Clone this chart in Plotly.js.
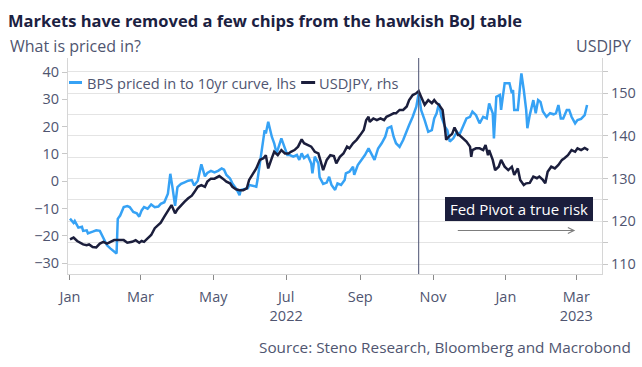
<!DOCTYPE html>
<html>
<head>
<meta charset="utf-8">
<script src="https://cdn.plot.ly/plotly-3.0.1.min.js"></script>
<style>html,body{margin:0;padding:0;background:#fff;}#chart{width:642px;height:367px;}</style>
</head>
<body>
<div id="chart"></div>
<script>
const bpsDates = ['2022-01-01','2022-01-04','2022-01-05','2022-01-08','2022-01-11','2022-01-12','2022-01-15','2022-01-16','2022-01-20','2022-01-23','2022-01-26','2022-01-29','2022-02-01','2022-02-04','2022-02-07','2022-02-09','2022-02-10','2022-02-12','2022-02-15','2022-02-18','2022-02-20','2022-02-23','2022-02-26','2022-02-28','2022-03-02','2022-03-04','2022-03-07','2022-03-10','2022-03-13','2022-03-16','2022-03-18','2022-03-21','2022-03-24','2022-03-26','2022-03-28','2022-03-30','2022-04-01','2022-04-04','2022-04-07','2022-04-10','2022-04-13','2022-04-15','2022-04-18','2022-04-21','2022-04-24','2022-04-26','2022-04-29','2022-05-02','2022-05-05','2022-05-08','2022-05-10','2022-05-12','2022-05-15','2022-05-17','2022-05-20','2022-05-23','2022-05-24','2022-05-27','2022-05-30','2022-05-31','2022-06-03','2022-06-06','2022-06-07','2022-06-10','2022-06-13','2022-06-14','2022-06-16','2022-06-19','2022-06-21','2022-06-23','2022-06-24','2022-06-27','2022-06-30','2022-07-02','2022-07-04','2022-07-07','2022-07-10','2022-07-12','2022-07-14','2022-07-16','2022-07-19','2022-07-22','2022-07-23','2022-07-25','2022-07-28','2022-07-29','2022-08-01','2022-08-04','2022-08-06','2022-08-08','2022-08-11','2022-08-13','2022-08-16','2022-08-19','2022-08-20','2022-08-23','2022-08-26','2022-08-27','2022-08-30','2022-09-02','2022-09-05','2022-09-08','2022-09-10','2022-09-13','2022-09-16','2022-09-19','2022-09-22','2022-09-24','2022-09-27','2022-09-29','2022-10-01','2022-10-04','2022-10-07','2022-10-10','2022-10-12','2022-10-15','2022-10-18','2022-10-20','2022-10-22','2022-10-25','2022-10-28','2022-10-31','2022-11-02','2022-11-04','2022-11-06','2022-11-08','2022-11-11','2022-11-13','2022-11-15','2022-11-18','2022-11-21','2022-11-23','2022-11-26','2022-11-29','2022-12-02','2022-12-04','2022-12-07','2022-12-10','2022-12-13','2022-12-16','2022-12-18','2022-12-21','2022-12-22','2022-12-24','2022-12-27','2022-12-28','2022-12-31','2023-01-04','2023-01-06','2023-01-07','2023-01-08','2023-01-11','2023-01-13','2023-01-14','2023-01-16','2023-01-18','2023-01-19','2023-01-21','2023-01-24','2023-01-26','2023-01-28','2023-01-30','2023-02-01','2023-02-04','2023-02-07','2023-02-10','2023-02-12','2023-02-14','2023-02-16','2023-02-18','2023-02-21','2023-02-23','2023-02-25','2023-02-28','2023-03-02','2023-03-05','2023-03-08','2023-03-10'];
const bpsValues = [-13.7,-15.3,-14.6,-17.0,-16.7,-18.2,-18.0,-19.1,-18.5,-18.0,-18.2,-21.0,-23.5,-24.7,-25.9,-26.5,-13.8,-12.6,-9.5,-9.1,-9.5,-11.3,-11.8,-13.0,-10.7,-9.5,-10.1,-8.5,-9.5,-9.3,-8.3,-7.7,-4.6,2.7,-2.8,-9.0,-2.2,-1.0,-0.4,0.2,0.4,-1.6,0.2,6.2,1.8,3.0,3.8,3.2,3.8,4.7,4.2,2.3,1.0,-0.8,-2.6,-5.1,-3.2,-3.0,-2.6,-1.4,-1.8,-2.0,0.4,9.0,18.7,17.5,21.8,16.3,13.9,10.2,11.5,15.7,12.0,9.6,9.6,9.0,9.6,7.8,10.2,8.5,9.5,6.5,2.9,9.0,6.5,1.5,-1.0,-0.5,1.6,-1.4,-3.2,-0.8,-1.4,0.4,2.9,3.5,5.3,2.3,5.9,7.8,9.6,12.0,10.2,7.8,12.0,13.9,16.3,19.4,20.0,16.3,13.9,12.6,15.1,18.7,20.6,23.6,27.3,32.2,26.1,22.4,18.1,18.7,23.0,24.9,28.5,23.6,20.0,18.7,14.5,15.7,18.1,16.9,20.0,23.0,23.6,25.5,24.2,21.2,23.6,23.0,28.5,24.9,15.7,30.9,31.6,26.1,35.9,35.9,32.2,33.4,26.1,26.1,35.3,39.5,33.4,26.1,19.4,24.2,29.7,24.9,29.7,29.0,25.5,23.6,24.9,24.5,24.9,27.9,23.0,23.0,26.1,26.1,23.6,21.2,22.4,22.8,24.2,27.9];

const fxDates = ['2022-01-01','2022-01-04','2022-01-07','2022-01-09','2022-01-12','2022-01-15','2022-01-17','2022-01-20','2022-01-23','2022-01-26','2022-01-29','2022-02-01','2022-02-04','2022-02-07','2022-02-11','2022-02-15','2022-02-18','2022-02-22','2022-02-25','2022-02-28','2022-03-02','2022-03-04','2022-03-07','2022-03-10','2022-03-13','2022-03-16','2022-03-18','2022-03-21','2022-03-24','2022-03-27','2022-03-28','2022-03-30','2022-04-01','2022-04-04','2022-04-07','2022-04-10','2022-04-13','2022-04-15','2022-04-18','2022-04-21','2022-04-24','2022-04-26','2022-04-29','2022-05-02','2022-05-05','2022-05-06','2022-05-09','2022-05-12','2022-05-15','2022-05-17','2022-05-20','2022-05-23','2022-05-26','2022-05-29','2022-05-31','2022-06-03','2022-06-06','2022-06-09','2022-06-12','2022-06-14','2022-06-16','2022-06-19','2022-06-21','2022-06-24','2022-06-27','2022-06-30','2022-07-03','2022-07-05','2022-07-08','2022-07-11','2022-07-14','2022-07-16','2022-07-19','2022-07-22','2022-07-25','2022-07-28','2022-07-30','2022-08-01','2022-08-04','2022-08-07','2022-08-10','2022-08-12','2022-08-15','2022-08-18','2022-08-21','2022-08-23','2022-08-26','2022-08-29','2022-09-01','2022-09-04','2022-09-06','2022-09-08','2022-09-09','2022-09-12','2022-09-15','2022-09-18','2022-09-21','2022-09-23','2022-09-26','2022-09-29','2022-10-01','2022-10-04','2022-10-07','2022-10-10','2022-10-12','2022-10-15','2022-10-18','2022-10-20','2022-10-22','2022-10-25','2022-10-28','2022-10-31','2022-11-02','2022-11-04','2022-11-06','2022-11-09','2022-11-11','2022-11-12','2022-11-14','2022-11-17','2022-11-19','2022-11-21','2022-11-22','2022-11-23','2022-11-26','2022-11-29','2022-12-02','2022-12-03','2022-12-04','2022-12-07','2022-12-10','2022-12-13','2022-12-15','2022-12-17','2022-12-18','2022-12-21','2022-12-23','2022-12-26','2022-12-28','2022-12-31','2023-01-03','2023-01-06','2023-01-08','2023-01-11','2023-01-13','2023-01-16','2023-01-18','2023-01-21','2023-01-24','2023-01-27','2023-01-29','2023-02-01','2023-02-03','2023-02-05','2023-02-08','2023-02-11','2023-02-14','2023-02-17','2023-02-19','2023-02-22','2023-02-25','2023-02-28','2023-03-02','2023-03-05','2023-03-08','2023-03-11'];
const fxValues = [115.8,116.2,115.4,115.0,114.6,114.4,114.6,114.0,113.9,114.8,115.2,114.8,115.2,115.6,115.6,115.6,115.0,115.2,115.6,115.0,115.4,115.2,116.0,116.8,118.4,119.1,119.7,121.1,122.4,123.8,123.2,121.9,122.8,123.8,124.6,125.4,126.0,126.8,128.1,128.5,128.1,129.3,130.0,130.0,130.6,130.6,130.0,129.3,128.9,128.1,127.5,127.3,127.3,127.7,129.7,130.9,132.4,134.4,134.8,135.5,132.4,134.8,136.3,135.5,136.7,135.9,135.9,136.3,136.7,137.5,139.2,138.3,137.9,137.5,136.3,135.9,134.0,132.0,134.4,135.5,135.3,133.6,135.1,135.9,137.5,137.1,138.3,139.1,140.2,141.4,143.7,144.5,143.3,144.1,143.7,144.1,143.7,144.5,144.9,145.3,145.3,146.1,146.1,146.9,148.4,149.6,150.0,150.5,149.2,147.3,148.4,147.7,148.4,147.7,147.3,146.1,141.8,139.1,139.8,140.5,142.0,141.0,140.2,140.2,139.5,138.7,137.5,135.1,136.7,137.1,137.1,136.7,137.9,135.5,136.7,134.4,132.0,132.8,134.4,132.8,132.0,132.8,130.9,132.4,129.7,128.5,128.9,129.0,130.5,130.1,130.5,129.7,128.9,131.6,132.8,132.4,133.2,134.4,134.8,135.5,136.7,136.3,137.1,136.7,137.2,136.7];

const leftTicks = [-30,-20,-10,0,10,20,30,40];
const rightTicks = [110,115,120,125,130,135,140,145,150,155];
const rightTickText = ['110','','120','','130','','140','','150',''];
const xTickVals = ['2022-01-01','2022-03-01','2022-05-01','2022-07-01','2022-09-01','2022-11-01','2023-01-01','2023-03-01'];
const xTickText = ['Jan','Mar','May','Jul<br>2022','Sep','Nov','Jan','Mar<br>2023'];
const seriesNames = ['BPS priced in to 10yr curve, lhs','USDJPY, rhs'];
const pivotDate = '2022-10-20';

const FONT = 'Open Sans, Noto Sans, sans-serif';
const TXT = '#4f5570';
const NAVY = '#1b1e3c';
const BLUE = '#36a2f5';

const traces = [
  {x: bpsDates, y: bpsValues, type: 'scatter', mode: 'lines', name: seriesNames[0],
   line: {color: BLUE, width: 2.5}, yaxis: 'y', hoverinfo: 'x+y'},
  {x: fxDates, y: fxValues, type: 'scatter', mode: 'lines', name: seriesNames[1],
   line: {color: NAVY, width: 2.5}, yaxis: 'y2', hoverinfo: 'x+y'}
];

const layout = {
  width: 642, height: 367,
  margin: {l: 68, r: 40, t: 58, b: 93, pad: 0},
  paper_bgcolor: '#ffffff', plot_bgcolor: '#ffffff',
  showlegend: false,
  font: {family: FONT, color: TXT, size: 14},
  title: {text: '<b>Markets have removed a few chips from the hawkish BoJ table</b>',
          font: {family: FONT, size: 16.5, color: '#1b2141'},
          x: 8/642, xanchor: 'left', xref: 'container', y: 1 - 21/367, yanchor: 'middle', yref: 'container'},
  xaxis: {type: 'date', range: ['2021-12-30 08:00', '2023-03-22 12:00'],
          tickvals: xTickVals, ticktext: xTickText, ticks: 'outside', ticklen: 5, tickcolor: '#8a8a8a',
          showline: true, linecolor: '#d6d6d6', linewidth: 1, showgrid: false, zeroline: false,
          tickfont: {size: 14.5, color: TXT}, ticklabelstandoff: 5},
  yaxis: {range: [-34.0, 45.13], tickvals: leftTicks, ticks: 'outside', ticklen: 5, tickcolor: '#c8c8c8',
          showline: true, linecolor: '#d6d6d6', showgrid: false, zeroline: false,
          tickfont: {size: 14.5, color: TXT}},
  yaxis2: {range: [107.66, 158.27], overlaying: 'y', side: 'right', tickvals: rightTicks, ticktext: rightTickText,
           ticks: 'outside', ticklen: 5, tickcolor: '#c8c8c8', showline: true, linecolor: '#d6d6d6',
           showgrid: true, gridcolor: '#e4e4e4', gridwidth: 1, zeroline: false,
           tickfont: {size: 14.5, color: TXT}},
  shapes: [
    {type: 'line', xref: 'x', yref: 'paper', x0: pivotDate, x1: pivotDate, y0: 0, y1: 1,
     line: {color: '#4b5170', width: 1}},
    {type: 'line', xref: 'paper', yref: 'paper', x0: (69-68)/533.7, x1: (82-68)/533.7, y0: (274-82.5)/216, y1: (274-82.5)/216,
     line: {color: BLUE, width: 3}},
    {type: 'line', xref: 'paper', yref: 'paper', x0: (301-68)/533.7, x1: (315-68)/533.7, y0: (274-82.5)/216, y1: (274-82.5)/216,
     line: {color: NAVY, width: 3}}
  ],
  annotations: [
    {text: 'What is priced in?', xref: 'paper', yref: 'paper', x: (8-68)/533.7, y: (274-46)/216,
     xanchor: 'left', yanchor: 'middle', showarrow: false, font: {size: 16, color: TXT}},
    {text: 'USDJPY', xref: 'paper', yref: 'paper', x: (633-68)/533.7, y: (274-46)/216,
     xanchor: 'right', yanchor: 'middle', showarrow: false, font: {size: 16, color: TXT}},
    {text: 'Source: Steno Research, Bloomberg and Macrobond', xref: 'paper', yref: 'paper',
     x: (633-68)/533.7, y: (274-347)/216, xanchor: 'right', yanchor: 'middle', showarrow: false,
     font: {size: 15.3, color: TXT}},
    {text: seriesNames[0], xref: 'paper', yref: 'paper', x: (85-68)/533.7, y: (274-83)/216,
     xanchor: 'left', yanchor: 'middle', showarrow: false, font: {size: 14.6, color: TXT}},
    {text: seriesNames[1], xref: 'paper', yref: 'paper', x: (317-68)/533.7, y: (274-83)/216,
     xanchor: 'left', yanchor: 'middle', showarrow: false, font: {size: 14.6, color: TXT}},
    {text: 'Fed Pivot a true risk', xref: 'paper', yref: 'paper', x: (519-68)/533.7, y: (274-209)/216,
     xanchor: 'center', yanchor: 'middle', showarrow: false, bgcolor: NAVY, borderpad: 1, borderwidth: 1,
     bordercolor: NAVY, width: 144, height: 20, font: {size: 15, color: '#ffffff'}},
    {text: '', xref: 'paper', yref: 'paper', x: (575-68)/533.7, y: (274-230.5)/216,
     axref: 'pixel', ayref: 'pixel', ax: -119, ay: 0, showarrow: true, arrowhead: 5, arrowsize: 1.2,
     arrowwidth: 1, arrowcolor: '#7d7d7d'}
  ]
};

Plotly.newPlot('chart', traces, layout, {displayModeBar: false, staticPlot: true});
</script>
</body>
</html>
